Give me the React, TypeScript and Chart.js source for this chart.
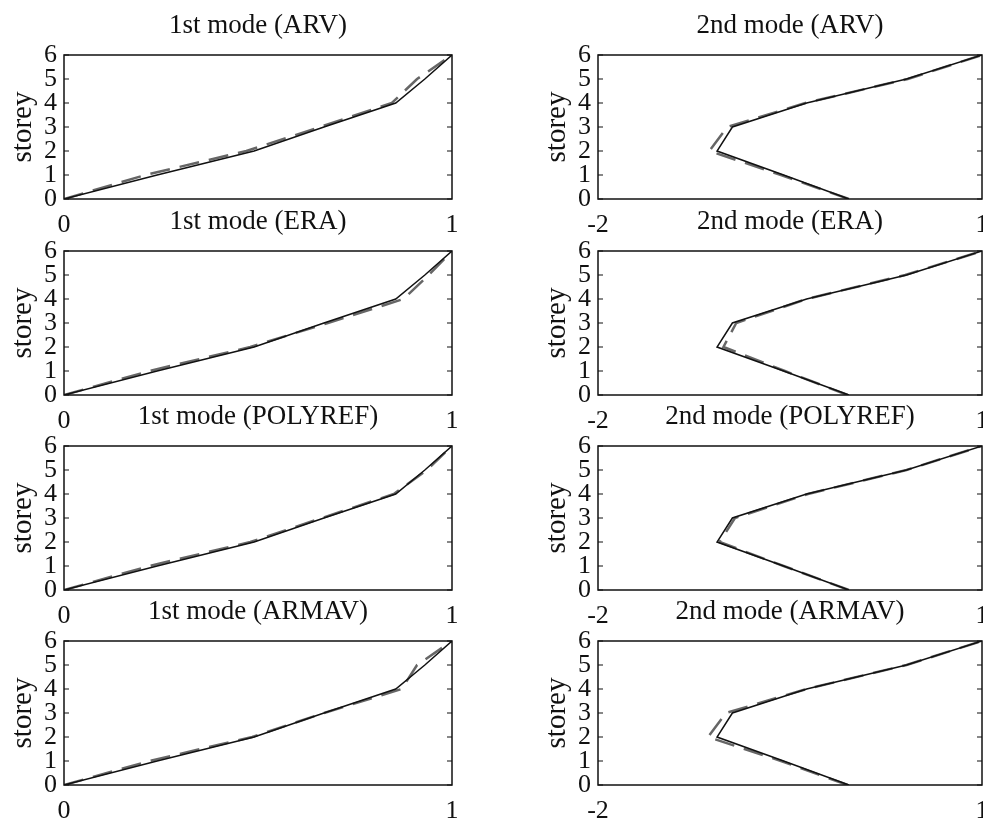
import React, { useEffect, useRef } from 'react';
import { Chart, registerables } from 'chart.js';

Chart.register(...registerables);

// ---- data ----
const storeys = [0, 1, 2, 3, 4, 5, 6];
const yTicks = [0, 1, 2, 3, 4, 5, 6];
const methods = ['ARV', 'ERA', 'POLYREF', 'ARMAV'];

const mode1XTicks = [0, 1];
const mode2XTicks = [-2, 1];

// reference (solid) mode shapes
const mode1Reference = [0, 0.24, 0.49, 0.67, 0.855, 0.93, 1.0];
const mode2Reference = [-0.04, -0.55, -1.07, -0.95, -0.37, 0.41, 1.0];

// identified (dashed) mode shapes
const mode1ARV = [0, 0.21, 0.47, 0.66, 0.845, 0.91, 1.0];
const mode1ERA = [0, 0.22, 0.48, 0.68, 0.875, 0.94, 1.0];
const mode1POLYREF = [0, 0.22, 0.48, 0.665, 0.85, 0.935, 1.0];
const mode1ARMAV = [0, 0.22, 0.485, 0.67, 0.87, 0.91, 1.0];

const mode2ARV = [-0.04, -0.57, -1.13, -0.99, -0.38, 0.42, 1.0];
const mode2ERA = [-0.05, -0.54, -1.02, -0.92, -0.37, 0.4, 1.0];
const mode2POLYREF = [-0.04, -0.55, -1.05, -0.93, -0.36, 0.41, 1.0];
const mode2ARMAV = [-0.05, -0.57, -1.14, -1.0, -0.37, 0.41, 1.0];

const mode1Identified = [mode1ARV, mode1ERA, mode1POLYREF, mode1ARMAV];
const mode2Identified = [mode2ARV, mode2ERA, mode2POLYREF, mode2ARMAV];

// ---- layout ----
const FONT = '"Liberation Serif", "Times New Roman", serif';
const plotTops = [55, 251, 446, 641];
const plotH = 144;
const cols = [
  { canvasLeft: 0, canvasW: 490, plotL: 64, plotR: 452 },
  { canvasLeft: 490, canvasW: 520, plotL: 598, plotR: 982 },
];
const padTop = 55;
const xAxisH = 45;
const canvasH = padTop + plotH + xAxisH;

const decor = {
  id: 'decor',
  afterDraw(chart: any, _args: any, opts: any) {
    const { ctx, chartArea: a, scales } = chart;
    const ys = scales.y;
    ctx.save();
    ctx.strokeStyle = '#111';
    ctx.lineWidth = 1.5;
    ctx.strokeRect(a.left, a.top, a.right - a.left, a.bottom - a.top);
    ctx.lineWidth = 1.2;
    ys.ticks.forEach((t: any) => {
      const py = ys.getPixelForValue(t.value);
      ctx.beginPath();
      ctx.moveTo(a.left, py);
      ctx.lineTo(a.left + 5, py);
      ctx.moveTo(a.right, py);
      ctx.lineTo(a.right - 5, py);
      ctx.stroke();
    });
    ctx.fillStyle = '#111';
    ctx.font = `27px ${FONT}`;
    ctx.textAlign = 'center';
    ctx.textBaseline = 'alphabetic';
    ctx.fillText(opts.title, (a.left + a.right) / 2, a.top - 22);
    ctx.translate(a.left - 41, (a.top + a.bottom) / 2);
    ctx.rotate(-Math.PI / 2);
    ctx.font = `29px ${FONT}`;
    ctx.textBaseline = 'middle';
    ctx.fillText(opts.ylabel, 0, 0);
    ctx.restore();
  },
};

function toPoints(vals: number[]) {
  return storeys.map((s, i) => ({ x: vals[i], y: s }));
}

type Panel = { title: string; ref: number[]; ident: number[]; xTicks: number[]; col: number; row: number };

const panels: Panel[] = [];
methods.forEach((m, row) => {
  panels.push({ title: `1st mode (${m})`, ref: mode1Reference, ident: mode1Identified[row], xTicks: mode1XTicks, col: 0, row });
  panels.push({ title: `2nd mode (${m})`, ref: mode2Reference, ident: mode2Identified[row], xTicks: mode2XTicks, col: 1, row });
});

function SubPlot({ p }: { p: Panel }) {
  const ref = useRef<HTMLCanvasElement | null>(null);
  const c = cols[p.col];
  useEffect(() => {
    if (!ref.current) return;
    const chart = new Chart(ref.current, {
      type: 'scatter',
      data: {
        datasets: [
          {
            data: toPoints(p.ref),
            showLine: true,
            borderColor: '#111',
            borderWidth: 1.5,
            pointRadius: 0,
          },
          {
            data: toPoints(p.ident),
            showLine: true,
            borderColor: '#666',
            borderWidth: 2.5,
            borderDash: [20, 10],
            pointRadius: 0,
          },
        ],
      },
      options: {
        animation: false,
        responsive: false,
        devicePixelRatio: 1,
        layout: { padding: { top: padTop, right: c.canvasW - (c.plotR - c.canvasLeft), left: 0, bottom: 0 } },
        plugins: {
          legend: { display: false },
          tooltip: { enabled: false },
          decor: { title: p.title, ylabel: 'storey' },
        } as any,
        scales: {
          x: {
            type: 'linear',
            min: p.xTicks[0],
            max: p.xTicks[p.xTicks.length - 1],
            afterBuildTicks: (s: any) => {
              s.ticks = p.xTicks.map((v) => ({ value: v }));
            },
            afterFit: (s: any) => {
              s.height = xAxisH;
            },
            grid: { display: false, drawTicks: false },
            border: { display: false },
            ticks: { color: '#111', font: { family: FONT, size: 26 }, padding: 11, maxRotation: 0, autoSkip: false },
          },
          y: {
            type: 'linear',
            min: 0,
            max: 6,
            afterBuildTicks: (s: any) => {
              s.ticks = yTicks.map((v) => ({ value: v }));
            },
            afterFit: (s: any) => {
              s.width = c.plotL - c.canvasLeft;
            },
            grid: { display: false, drawTicks: false },
            border: { display: false },
            ticks: { color: '#111', font: { family: FONT, size: 26 }, padding: 7, autoSkip: false },
          },
        },
      },
      plugins: [decor],
    } as any);
    return () => chart.destroy();
  }, []);
  return (
    <canvas
      ref={ref}
      width={c.canvasW}
      height={canvasH}
      style={{ position: 'absolute', left: c.canvasLeft, top: plotTops[p.row] - padTop, width: c.canvasW, height: canvasH }}
    />
  );
}

export default function App() {
  return (
    <div style={{ position: 'fixed', left: 0, top: 0, width: 983, height: 822, overflow: 'hidden', background: '#fff' }}>
      {panels.map((p, i) => (
        <SubPlot key={i} p={p} />
      ))}
    </div>
  );
}
